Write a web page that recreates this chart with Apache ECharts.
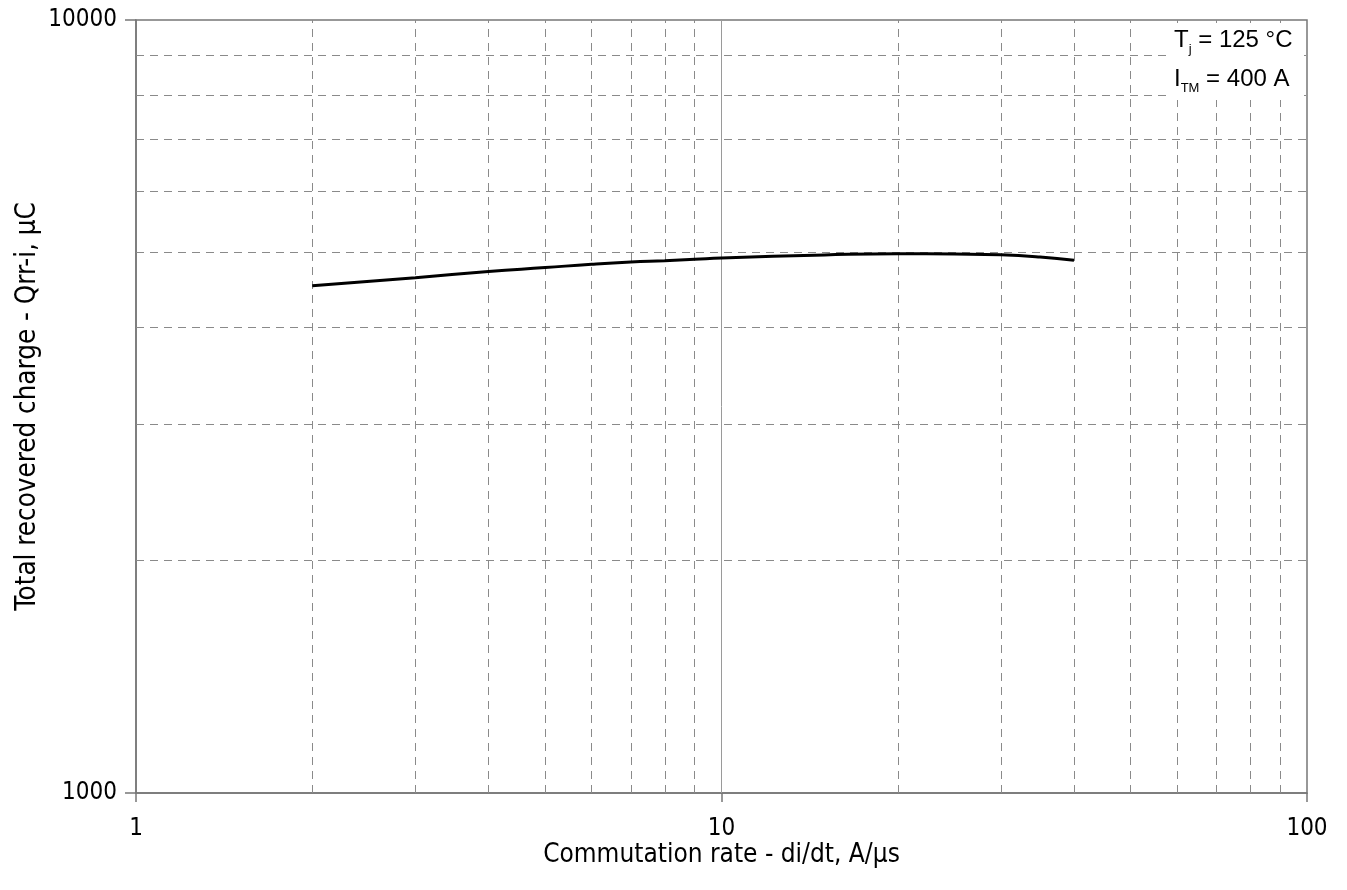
<!DOCTYPE html>
<html><head><meta charset="utf-8">
<script src="https://cdn.jsdelivr.net/npm/echarts@6/dist/echarts.min.js"></script>
<style>html,body{margin:0;padding:0;background:#fff}#c{width:1347px;height:890px}</style>
</head><body><div id="c"></div>
<script>
const diDt = [2, 3, 4, 5, 6, 7, 8, 9, 10, 15, 20, 25, 30, 35, 40];
const qrr  = [4532, 4642, 4726, 4783, 4831, 4864, 4883, 4903, 4922, 4966, 4985, 4980, 4968, 4936, 4890];
const xMinorGrid = [2, 3, 4, 5, 6, 7, 8, 9, 20, 30, 40, 50, 60, 70, 80, 90];
const xMajorGrid = [10];
const yMinorGrid = [2000, 3000, 4000, 5000, 6000, 7000, 8000, 9000];
const xTicks = [1, 10, 100];
const yTicks = [1000, 10000];

const chart = echarts.init(document.getElementById('c'));
const dashStyle = {color: '#8a8a8a', type: [8, 6], width: 1};
const markData = [];
xMinorGrid.forEach(v => markData.push({xAxis: v, lineStyle: dashStyle}));
yMinorGrid.forEach(v => markData.push({yAxis: v, lineStyle: dashStyle}));
xMajorGrid.forEach(v => markData.push({xAxis: v, lineStyle: {color: '#9a9a9a', type: 'solid', width: 1}}));

const FONT = 'DejaVu Sans Condensed';
chart.setOption({
  animation: false,
  grid: {left: 136, right: 40, top: 20, bottom: 97, show: true, borderColor: '#777', borderWidth: 1.5, backgroundColor: 'transparent'},
  xAxis: {
    type: 'log', logBase: 10, min: 1, max: 100,
    name: 'Commutation rate - di/dt, A/µs', nameLocation: 'middle', nameGap: 49, nameMoveOverlap: false,
    nameTextStyle: {fontFamily: FONT, fontSize: 26, color: '#000'},
    axisLine: {show: true, lineStyle: {color: '#777', width: 1.5}},
    axisTick: {show: true, length: 9, lineStyle: {color: '#777', width: 1.5}},
    axisLabel: {fontFamily: FONT, fontSize: 24, color: '#000', margin: 24,
      formatter: v => xTicks.includes(Math.round(v)) ? String(Math.round(v)) : ''},
    splitLine: {show: false}, minorTick: {show: false}
  },
  yAxis: {
    type: 'log', logBase: 10, min: 1000, max: 10000,
    name: 'Total recovered charge - Qrr-i, µC', nameLocation: 'middle', nameGap: 94, nameMoveOverlap: false,
    nameTextStyle: {fontFamily: FONT, fontSize: 27.5, color: '#000'},
    axisLine: {show: true, lineStyle: {color: '#777', width: 1.5}},
    axisTick: {show: true, length: 11, lineStyle: {color: '#777', width: 1.5}},
    axisLabel: {fontFamily: FONT, fontSize: 24, color: '#000', margin: 19,
      formatter: v => yTicks.includes(Math.round(v)) ? String(Math.round(v)) : ''},
    splitLine: {show: false}, minorTick: {show: false}
  },
  series: [{
    type: 'line', smooth: true, symbol: 'none',
    data: diDt.map((x, i) => [x, qrr[i]]),
    lineStyle: {color: '#000', width: 3},
    markLine: {silent: true, symbol: 'none', label: {show: false}, data: markData, animation: false},
    z: 5
  }],
  graphic: [
    {type: 'rect', left: 1166, top: 27, shape: {width: 138, height: 73}, style: {fill: '#fff'}, z: 100},
    {type: 'text', left: 1174, top: 28, z: 101, style: {
      text: '{m|T}{s|j}{m| = 125 °C}', rich: {
        m: {fontFamily: 'Liberation Sans', fontSize: 24, fill: '#000'},
        s: {fontFamily: 'Liberation Sans', fontSize: 13, fill: '#000', padding: [18, 0, 0, 0]}
      }}},
    {type: 'text', left: 1174, top: 67, z: 101, style: {
      text: '{m|I}{s|TM}{m| = 400 A}', rich: {
        m: {fontFamily: 'Liberation Sans', fontSize: 24, fill: '#000'},
        s: {fontFamily: 'Liberation Sans', fontSize: 13, fill: '#000', padding: [18, 0, 0, 0]}
      }}}
  ]
});
</script></body></html>
